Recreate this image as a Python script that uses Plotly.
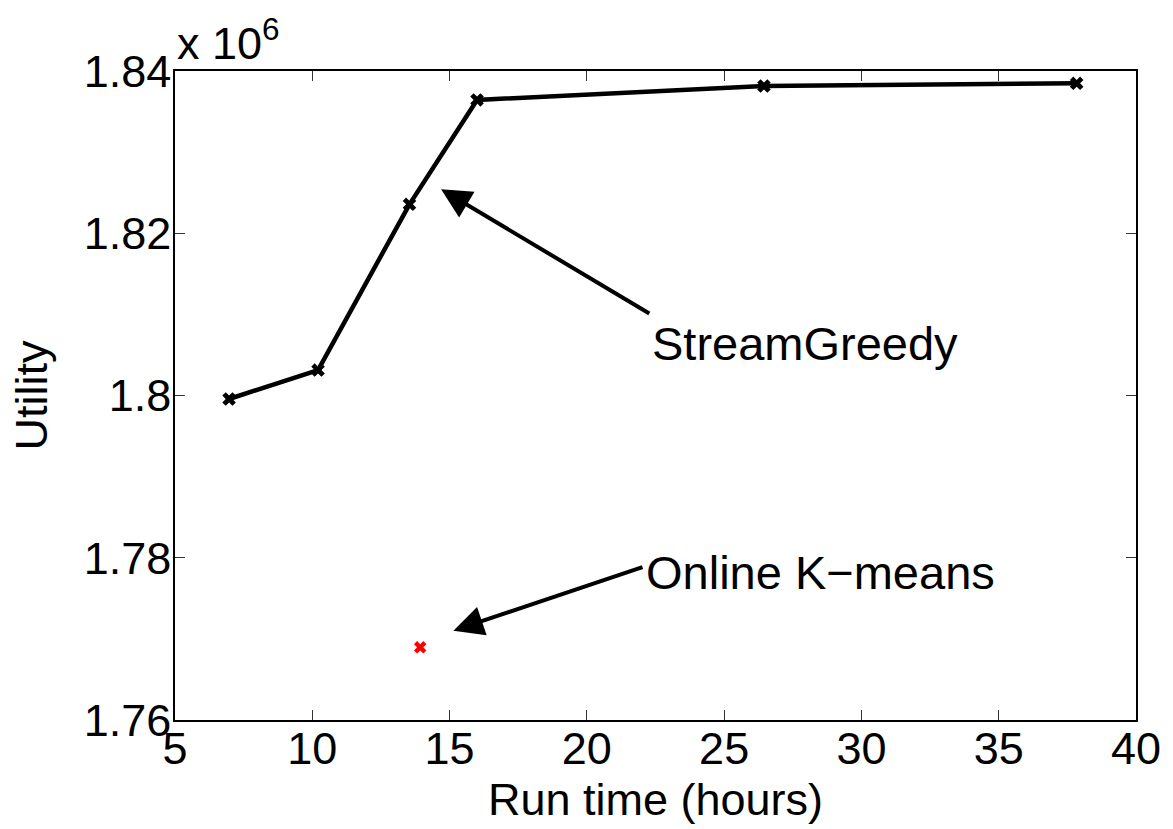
import plotly.graph_objects as go

# StreamGreedy series
sg_hours = [6.97, 10.21, 13.54, 16.00, 26.45, 37.84]
sg_utility = [1799570, 1803140, 1823570, 1836430, 1838150, 1838480]

# Online K-means
km_hours = [13.93]
km_utility = [1768960]

y_tickvals = [1760000, 1780000, 1800000, 1820000, 1840000]
y_ticktext = ["1.76", "1.78", "1.8", "1.82", "1.84"]
x_tickvals = [5, 10, 15, 20, 25, 30, 35, 40]

FONT = "Liberation Sans, Arial, sans-serif"
FS = 45

fig = go.Figure()
fig.add_trace(go.Scatter(
    x=sg_hours, y=sg_utility, mode="lines+markers",
    line=dict(color="black", width=4.5),
    marker=dict(symbol="x", size=12, color="black"),
    name="StreamGreedy", showlegend=False))
fig.add_trace(go.Scatter(
    x=km_hours, y=km_utility, mode="markers",
    marker=dict(symbol="x", size=11, color="red"),
    name="Online K-means", showlegend=False))

axis_common = dict(
    showgrid=False, zeroline=False, showline=True, linecolor="black",
    linewidth=1.5, mirror="allticks", ticks="inside", ticklen=10,
    tickwidth=1, tickcolor="#333",
    tickfont=dict(family=FONT, size=FS, color="black"),
)

fig.update_xaxes(range=[5, 40], tickvals=x_tickvals, ticklabelstandoff=-12,
                 title=dict(text="Run time (hours)", standoff=6,
                            font=dict(family=FONT, size=FS, color="black")),
                 **axis_common)
fig.update_yaxes(range=[1760000, 1840000], tickvals=y_tickvals, ticktext=y_ticktext,
                 ticklabelstandoff=-7,
                 title=dict(text="Utility", standoff=22,
                            font=dict(family=FONT, size=FS, color="black")),
                 **axis_common)

annotations = [
    # arrows
    dict(x=14.69, y=1825420, ax=22.33, ay=1809990, xref="x", yref="y",
         axref="x", ayref="y", text="", showarrow=True, arrowhead=2,
         arrowsize=1.5, arrowwidth=4, arrowcolor="black"),
    dict(x=15.14, y=1771010, ax=22.08, ay=1778900, xref="x", yref="y",
         axref="x", ayref="y", text="", showarrow=True, arrowhead=2,
         arrowsize=1.5, arrowwidth=4, arrowcolor="black"),
    # labels
    dict(x=22.30, y=1806470, xref="x", yref="y", text="StreamGreedy",
         showarrow=False, xanchor="left", yanchor="middle",
         font=dict(family=FONT, size=47, color="black")),
    dict(x=22.08, y=1778240, xref="x", yref="y", text="Online K\u2212means",
         showarrow=False, xanchor="left", yanchor="middle",
         font=dict(family=FONT, size=47, color="black")),
    # exponent label
    dict(x=0, y=1, xref="paper", yref="paper", text="x 10<sup>6</sup>",
         showarrow=False, xanchor="left", yanchor="bottom", yshift=0,
         font=dict(family=FONT, size=FS, color="black")),
]

fig.update_layout(
    width=1173, height=829,
    margin=dict(l=175, r=35, t=71, b=109),
    plot_bgcolor="white", paper_bgcolor="white",
    annotations=annotations,
    font=dict(family=FONT, color="black"),
)

fig.write_html("out.html")
